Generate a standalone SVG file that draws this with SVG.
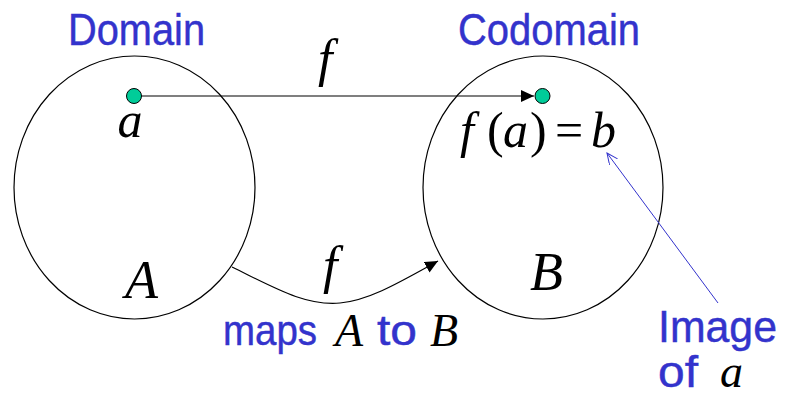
<svg xmlns="http://www.w3.org/2000/svg" width="786" height="398" viewBox="0 0 786 398">
  <style>
    .set { fill: none; stroke: #000; stroke-width: 1.2; }
    .blue { font-family: "Comic Sans MS", "Liberation Sans", "DejaVu Sans", sans-serif; fill: #3333CC; stroke: #3333CC; stroke-width: 0.45; }
    .math { font-family: "Liberation Serif", "Times New Roman", serif; fill: #000; }
    .it { font-style: italic; }
    .conn { fill: none; stroke: #000; stroke-width: 1.2; }
    .dot { fill: #00CC99; stroke: #000; stroke-width: 1; }
  </style>
  <defs>
    <marker id="head" markerUnits="userSpaceOnUse" markerWidth="14" markerHeight="14" refX="13" refY="6" orient="auto">
      <path d="M0,0 L13,6 L0,12 z" fill="#000"/>
    </marker>
    <marker id="open" markerUnits="userSpaceOnUse" markerWidth="14" markerHeight="14" refX="11" refY="5" orient="auto">
      <path d="M0,0 L11,5 L0,10" fill="none" stroke="#3333CC" stroke-width="1"/>
    </marker>
  </defs>
  <rect width="786" height="398" fill="#fff"/>

  <g id="domain">
    <ellipse class="set" cx="134.5" cy="187.5" rx="120.5" ry="131.5"/>
    <text class="blue" x="68" y="45" font-size="45" textLength="137" lengthAdjust="spacingAndGlyphs">Domain</text>
    <text class="math it" x="125" y="298" font-size="54">A</text>
  </g>

  <g id="codomain">
    <ellipse class="set" cx="543" cy="187.5" rx="120" ry="131.5"/>
    <text class="blue" x="458" y="45" font-size="45" textLength="182" lengthAdjust="spacingAndGlyphs">Codomain</text>
    <text class="math it" x="530" y="290" font-size="54">B</text>
  </g>

  <g id="connectors">
    <line class="conn" x1="134" y1="96" x2="534" y2="96" marker-end="url(#head)"/>
    <path class="conn" d="M232,267 C275,288 305,306 340,303 C370,300 400,282 438,261" marker-end="url(#head)"/>
    <line x1="718" y1="303" x2="607" y2="153" stroke="#3333CC" stroke-width="1" marker-end="url(#open)"/>
  </g>

  <g id="element-a">
    <circle class="dot" cx="134" cy="96" r="7.5"/>
    <text class="math it" x="130" y="137" font-size="50" text-anchor="middle">a</text>
  </g>

  <g id="element-b">
    <circle class="dot" cx="542.5" cy="96" r="7.5"/>
    <text class="math" y="147" font-size="50">
      <tspan class="it" x="460">f</tspan><tspan x="487">(</tspan><tspan class="it" x="503">a</tspan><tspan x="530">)</tspan><tspan x="555">=</tspan><tspan class="it" x="591">b</tspan>
    </text>
  </g>

  <g id="label-f-top">
    <text class="math it" x="318" y="76" font-size="52">f</text>
  </g>

  <g id="label-f-curve">
    <text class="math it" x="323" y="283" font-size="52">f</text>
  </g>

  <g id="label-maps">
    <text class="blue" x="223" y="345" font-size="42" textLength="94" lengthAdjust="spacingAndGlyphs">maps</text>
    <text class="math it" x="335" y="346" font-size="46">A</text>
    <text class="blue" x="377" y="345" font-size="42" textLength="40" lengthAdjust="spacingAndGlyphs">to</text>
    <text class="math it" x="430" y="346" font-size="46">B</text>
  </g>

  <g id="label-image">
    <text class="blue" x="658" y="342" font-size="44" textLength="119" lengthAdjust="spacingAndGlyphs">Image</text>
    <text class="blue" x="658" y="387" font-size="44" textLength="40" lengthAdjust="spacingAndGlyphs">of</text>
    <text class="math it" x="720" y="387" font-size="46">a</text>
  </g>
</svg>
